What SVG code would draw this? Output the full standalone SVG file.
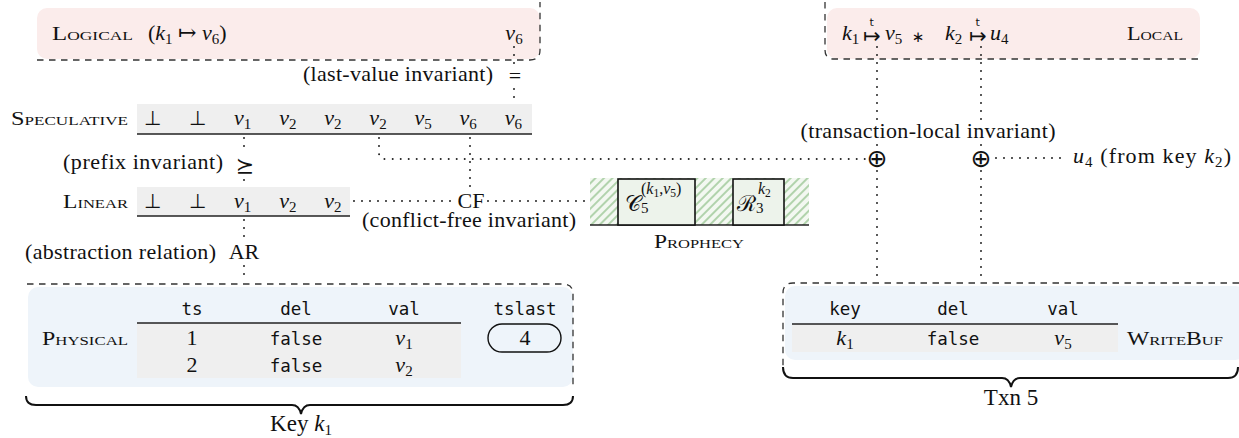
<svg xmlns="http://www.w3.org/2000/svg" width="1239" height="438" viewBox="0 0 1239 438">
<defs>
<style>
text{font-family:"Liberation Serif","DejaVu Serif",serif;font-size:22px;fill:#111}
.sc{font-variant:small-caps;font-size:18.5px}
.it{font-style:italic}
.mono{font-family:"DejaVu Sans Mono","Liberation Mono",monospace;font-size:17.5px}
.s{font-size:15px;font-style:normal}
.sup{font-size:16px;font-style:normal}
.ss{font-size:11.5px;font-style:normal}
.big{font-size:23px}
.m{text-anchor:middle}
.e{text-anchor:end}
.sym{font-family:"DejaVu Sans",sans-serif}
.arr{font-family:"DejaVu Sans",sans-serif;font-size:21px}
.ast{font-family:"DejaVu Sans",sans-serif;font-size:15px}
.bot{font-family:"DejaVu Sans",sans-serif;font-weight:200;font-size:20px}
.op{font-family:"DejaVu Sans",sans-serif;font-size:25px}
.tt{font-family:"DejaVu Sans",sans-serif;font-size:11px}
.dot{fill:none;stroke:#222;stroke-width:2;stroke-dasharray:0 8;stroke-linecap:round}
.dash{fill:none;stroke:#333;stroke-width:1.3;stroke-dasharray:6.5 5.5}
.rule{stroke:#222;stroke-width:1.6}
.brace{fill:none;stroke:#111;stroke-width:2}
.row{fill:#efefef}
.pink{fill:#fbeceb}
.blue{fill:#eef4fa}
.pbox{fill:#edf3eb;stroke:#111;stroke-width:1.6}
</style>
<pattern id="hatch" width="6" height="6" patternUnits="userSpaceOnUse" patternTransform="rotate(45)">
<rect width="6" height="6" fill="#f3f8f1"/>
<line x1="1" y1="0" x2="1" y2="6" stroke="#7cb574" stroke-width="1.1"/>
</pattern>
</defs>
<rect width="1239" height="438" fill="#fff"/>

<g id="logical">
<rect class="pink" x="37" y="8" width="503" height="51" rx="10"/>
<path class="dash" d="M37 60H530Q540 60 540 50V2"/>
<text class="sc" x="52" y="40" textLength="81" lengthAdjust="spacingAndGlyphs">Logical</text>
<text x="148" y="40">(<tspan class="it">k</tspan><tspan class="s" dy="4">1</tspan><tspan dy="-4"> ↦ </tspan><tspan class="it">v</tspan><tspan class="s" dy="4">6</tspan><tspan dy="-4">)</tspan></text>
<text class="m" x="514" y="40"><tspan class="it">v</tspan><tspan class="s" dy="4">6</tspan></text>
</g>

<g id="local">
<rect class="pink" x="827" y="8" width="373" height="51" rx="10"/>
<path class="dash" d="M825 2V50Q825 59 834 59H1200"/>
<text x="842" y="40"><tspan class="it">k</tspan><tspan class="s" dy="4">1</tspan></text>
<text class="arr" x="863" y="43">↦<tspan class="tt" dx="-11" dy="-17">t</tspan></text>
<text x="885" y="40"><tspan class="it">v</tspan><tspan class="s" dy="4">5</tspan></text>
<text class="m ast" x="918" y="42">∗</text>
<text x="945" y="40"><tspan class="it">k</tspan><tspan class="s" dy="4">2</tspan></text>
<text class="arr" x="969" y="43">↦<tspan class="tt" dx="-11" dy="-17">t</tspan></text>
<text x="990" y="40"><tspan class="it">u</tspan><tspan class="s" dy="4">4</tspan></text>
<text class="sc" x="1127" y="40" textLength="56" lengthAdjust="spacingAndGlyphs">Local</text>
</g>

<g id="speculative">
<text class="sc" x="11" y="125" textLength="117" lengthAdjust="spacingAndGlyphs">Speculative</text>
<rect class="row" x="137" y="104" width="395" height="30"/>
<line class="rule" x1="137" y1="134" x2="532" y2="134"/>
<text class="m bot" x="152.5" y="125">⊥</text>
<text class="m bot" x="197.6" y="125">⊥</text>
<text class="m" x="242.7" y="125"><tspan class="it">v</tspan><tspan class="s" dy="4">1</tspan></text>
<text class="m" x="287.8" y="125"><tspan class="it">v</tspan><tspan class="s" dy="4">2</tspan></text>
<text class="m" x="332.9" y="125"><tspan class="it">v</tspan><tspan class="s" dy="4">2</tspan></text>
<text class="m" x="378" y="125"><tspan class="it">v</tspan><tspan class="s" dy="4">2</tspan></text>
<text class="m" x="423.1" y="125"><tspan class="it">v</tspan><tspan class="s" dy="4">5</tspan></text>
<text class="m" x="468.2" y="125"><tspan class="it">v</tspan><tspan class="s" dy="4">6</tspan></text>
<text class="m" x="513.3" y="125"><tspan class="it">v</tspan><tspan class="s" dy="4">6</tspan></text>
</g>

<g id="linear">
<text class="sc" x="63" y="208" textLength="65" lengthAdjust="spacingAndGlyphs">Linear</text>
<rect class="row" x="137" y="187" width="213" height="29"/>
<line class="rule" x1="137" y1="216" x2="350" y2="216"/>
<text class="m bot" x="152.5" y="208">⊥</text>
<text class="m bot" x="197.6" y="208">⊥</text>
<text class="m" x="242.7" y="208"><tspan class="it">v</tspan><tspan class="s" dy="4">1</tspan></text>
<text class="m" x="287.8" y="208"><tspan class="it">v</tspan><tspan class="s" dy="4">2</tspan></text>
<text class="m" x="332.9" y="208"><tspan class="it">v</tspan><tspan class="s" dy="4">2</tspan></text>
</g>

<g id="prophecy">
<rect x="590" y="178" width="219" height="47" fill="url(#hatch)"/>
<line class="rule" x1="590" y1="225" x2="809" y2="225"/>
<rect class="pbox" x="618" y="179" width="77" height="46"/>
<rect class="pbox" x="733" y="179" width="51" height="46"/>
<text x="625" y="211">𝒞<tspan class="s" dy="2">5</tspan><tspan class="sup" x="641" dy="-19">(<tspan class="it">k</tspan><tspan class="ss" dy="3">1</tspan><tspan dy="-3">,</tspan><tspan class="it">v</tspan><tspan class="ss" dy="3">5</tspan><tspan dy="-3">)</tspan></tspan></text>
<text x="737" y="211">ℛ<tspan class="s" dy="2">3</tspan><tspan class="sup" x="758" dy="-19"><tspan class="it">k</tspan><tspan class="ss" dy="3">2</tspan></tspan></text>
<text class="sc m" x="699" y="248" textLength="90" lengthAdjust="spacingAndGlyphs">Prophecy</text>
</g>

<g id="physical">
<rect class="blue" x="28" y="287" width="545" height="100" rx="10"/>
<path class="dash" d="M27 284H563Q573 284 573 294V386"/>
<text class="sc" x="42" y="345" textLength="86" lengthAdjust="spacingAndGlyphs">Physical</text>
<rect class="row" x="137" y="323" width="324" height="55"/>
<line class="rule" x1="137" y1="323" x2="461" y2="323"/>
<text class="mono m" x="192" y="315">ts</text>
<text class="mono m" x="296" y="315">del</text>
<text class="mono m" x="404" y="315">val</text>
<text class="mono m" x="525" y="315">tslast</text>
<text class="m" x="192" y="345">1</text>
<text class="mono m" x="296" y="345">false</text>
<text class="m" x="404" y="345"><tspan class="it">v</tspan><tspan class="s" dy="4">1</tspan></text>
<text class="m" x="192" y="372">2</text>
<text class="mono m" x="296" y="372">false</text>
<text class="m" x="404" y="372"><tspan class="it">v</tspan><tspan class="s" dy="4">2</tspan></text>
<rect x="488" y="324" width="73" height="28" rx="14" fill="none" stroke="#111" stroke-width="1.4"/>
<text class="m" x="525" y="345">4</text>
</g>

<g id="key-k1">
<path class="brace" d="M26 396Q26 405 36 405H292Q299 405 301 414Q303 405 310 405H563Q573 405 573 396"/>
<text class="m big" x="301" y="431">Key <tspan class="it">k</tspan><tspan class="s" dy="4">1</tspan></text>
</g>

<g id="writebuf">
<rect class="blue" x="785" y="286" width="460" height="74" rx="10"/>
<path class="dash" d="M1239 283H793Q783 283 783 293V366"/>
<rect class="row" x="792" y="324" width="326" height="28"/>
<line class="rule" x1="792" y1="324" x2="1118" y2="324"/>
<text class="mono m" x="845" y="315">key</text>
<text class="mono m" x="953" y="315">del</text>
<text class="mono m" x="1063" y="315">val</text>
<text class="m" x="845" y="345"><tspan class="it">k</tspan><tspan class="s" dy="4">1</tspan></text>
<text class="mono m" x="953" y="345">false</text>
<text class="m" x="1063" y="345"><tspan class="it">v</tspan><tspan class="s" dy="4">5</tspan></text>
<text class="sc" x="1127" y="345" textLength="96" lengthAdjust="spacingAndGlyphs">WriteBuf</text>
</g>

<g id="txn5">
<path class="brace" d="M783 367Q783 378 793 378H1002Q1009 378 1011 387Q1013 378 1020 378H1228Q1238 378 1238 367"/>
<text class="m big" x="1011" y="405">Txn 5</text>
</g>

<g id="connectors">
<path class="dot" d="M514 47V70"/>
<path class="dot" d="M514 89V102"/>
<path class="dot" d="M244 138V152"/>
<path class="dot" d="M244 180V186"/>
<path class="dot" d="M244 220V240"/>
<path class="dot" d="M244 266V282"/>
<path class="dot" d="M379 138V153Q379 159 386 159H866"/>
<path class="dot" d="M470 138V190"/>
<path class="dot" d="M354 201H456"/>
<path class="dot" d="M488 201H588"/>
<path class="dot" d="M877 47V122"/>
<path class="dot" d="M877 145V146"/>
<path class="dot" d="M877 171V282"/>
<path class="dot" d="M981 47V122"/>
<path class="dot" d="M981 145V146"/>
<path class="dot" d="M981 171V282"/>
<path class="dot" d="M996 158H1066"/>
</g>

<g id="labels">
<text class="e" x="493" y="81" textLength="190">(last-value invariant)</text>
<text class="m" x="515" y="83">=</text>
<text class="e" x="223" y="169" textLength="160">(prefix invariant)</text>
<text class="m sym" x="245" y="173">⪰</text>
<text class="m"><tspan x="471" y="208">CF</tspan><tspan x="469" y="227" textLength="214">(conflict-free invariant)</tspan></text>
<text class="e" x="216" y="259" textLength="191">(abstraction relation)</text>
<text class="m" x="244" y="259">AR</text>
<text class="m" x="928" y="138" textLength="255">(transaction-local invariant)</text>
<text class="m op" x="877" y="167">⊕</text>
<text class="m op" x="981" y="167">⊕</text>
<text x="1073" y="163" textLength="158"><tspan class="it">u</tspan><tspan class="s" dy="4">4</tspan><tspan dy="-4"> (from key </tspan><tspan class="it">k</tspan><tspan class="s" dy="4">2</tspan><tspan dy="-4">)</tspan></text>
</g>
</svg>
